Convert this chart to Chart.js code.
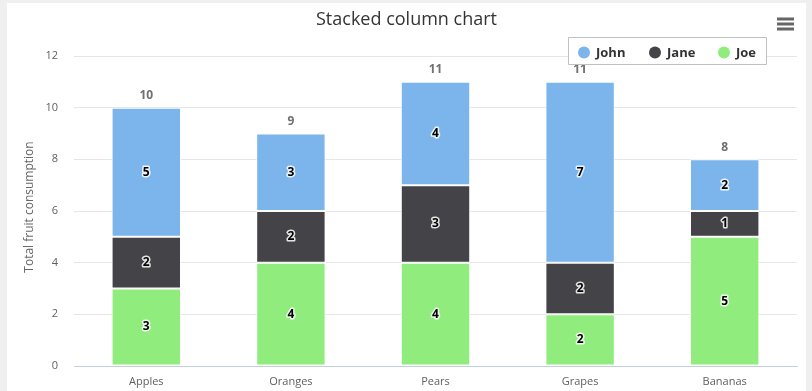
<!DOCTYPE html>
<html>
<head>
<meta charset="utf-8">
<script src="https://cdn.jsdelivr.net/npm/chart.js@4"></script>
<style>
    html, body { margin: 0; padding: 0; background: #efefef; }
    #wrap { position: absolute; left: 7px; top: 3px; width: 799px; height: 388px; background: #ffffff; }
</style>
</head>
<body>
<div id="wrap"><canvas id="chart" width="799" height="388"></canvas></div>
<script>
// -- Data --
const fruits = ['Apples', 'Oranges', 'Pears', 'Grapes', 'Bananas'];
const john = [5, 3, 4, 7, 2];
const jane = [2, 2, 3, 2, 1];
const joe = [3, 4, 4, 2, 5];
const yTicks = [0, 2, 4, 6, 8, 10, 12];

const names = ['John', 'Jane', 'Joe'];
const colors = ['#7cb5ec', '#434348', '#90ed7d'];

const FONT = '"Open Sans", "DejaVu Sans", sans-serif';

// title, menu icon, axis title, legend and value labels
const extras = {
    id: 'extras',
    afterDatasetsDraw(chart) {
        const ctx = chart.ctx;
        const area = chart.chartArea;
        ctx.save();

        // Title
        ctx.fillStyle = '#333333';
        ctx.font = '18px ' + FONT;
        ctx.textAlign = 'center';
        ctx.textBaseline = 'middle';
        ctx.fillText('Stacked column chart', chart.width / 2, 17);

        // Menu icon
        ctx.fillStyle = '#666666';
        [16, 21, 26].forEach(y => ctx.fillRect(770, y - 1.5, 17, 3));

        // Y axis title
        ctx.save();
        ctx.translate(23, (area.top + area.bottom) / 2 - 4);
        ctx.rotate(-Math.PI / 2);
        ctx.fillStyle = '#666666';
        ctx.font = '12px ' + FONT;
        ctx.fillText('Total fruit consumption', 0, 0);
        ctx.restore();

        // Segment labels (black with white halo)
        ctx.font = 'bold 12px ' + FONT;
        ctx.lineWidth = 3;
        ctx.lineJoin = 'round';
        chart.data.datasets.forEach((ds, di) => {
            const meta = chart.getDatasetMeta(di);
            meta.data.forEach((bar, i) => {
                const y = (bar.y + bar.base) / 2;
                ctx.strokeStyle = 'rgba(255,255,255,0.85)';
                ctx.strokeText(String(ds.data[i]), bar.x, y);
                ctx.fillStyle = '#000000';
                ctx.fillText(String(ds.data[i]), bar.x, y);
            });
        });

        // Stack totals
        const lastMeta = chart.getDatasetMeta(chart.data.datasets.length - 1);
        ctx.fillStyle = '#707070';
        ctx.font = 'bold 12px ' + FONT;
        fruits.forEach((f, i) => {
            const total = john[i] + jane[i] + joe[i];
            const bar = lastMeta.data[i];
            ctx.fillText(String(total), bar.x, bar.y - 12);
        });

        // Legend box
        ctx.fillStyle = '#ffffff';
        ctx.fillRect(561.5, 34.5, 198, 27);
        ctx.strokeStyle = '#c0c0c0';
        ctx.lineWidth = 1;
        ctx.strokeRect(561.5, 34.5, 198, 27);
        const legendX = [577, 648, 717];
        ctx.font = 'bold 13px ' + FONT;
        ctx.textAlign = 'left';
        names.forEach((n, k) => {
            ctx.fillStyle = colors[k];
            ctx.beginPath();
            ctx.arc(legendX[k], 49.5, 6, 0, Math.PI * 2);
            ctx.fill();
            ctx.fillStyle = '#333333';
            ctx.fillText(n, legendX[k] + 12, 50);
        });

        ctx.restore();
    }
};

// Joe sits at the bottom of each stack, John on top
const datasets = [
    { label: 'Joe', data: joe, backgroundColor: colors[2] },
    { label: 'Jane', data: jane, backgroundColor: colors[1] },
    { label: 'John', data: john, backgroundColor: colors[0] }
].map(d => Object.assign(d, {
    borderColor: '#ffffff',
    borderWidth: 1,
    borderSkipped: false,
    barPercentage: 0.48,
    categoryPercentage: 1
}));

new Chart(document.getElementById('chart'), {
    type: 'bar',
    data: { labels: fruits, datasets: datasets },
    options: {
        responsive: false,
        animation: false,
        layout: { padding: { top: 53, right: 9, left: 0, bottom: 0 } },
        plugins: {
            legend: { display: false },
            title: { display: false },
            tooltip: { enabled: false }
        },
        scales: {
            x: {
                stacked: true,
                grid: { display: false, drawTicks: false },
                border: { display: true, color: '#c0d0e0', width: 1 },
                ticks: { color: '#606060', font: { family: FONT, size: 11 }, padding: 9 },
                afterFit: s => { s.height = 25; }
            },
            y: {
                stacked: true,
                min: 0,
                max: 12,
                afterBuildTicks: s => { s.ticks = yTicks.map(v => ({ value: v })); },
                grid: {
                    color: c => (c.tick && c.tick.value === 0 ? 'rgba(0,0,0,0)' : '#e6e6e6'),
                    drawTicks: false
                },
                border: { display: false },
                ticks: { color: '#606060', font: { family: FONT, size: 11 }, padding: 16 },
                afterFit: s => { s.width = 67; }
            }
        }
    },
    plugins: [extras]
});
</script>
</body>
</html>
